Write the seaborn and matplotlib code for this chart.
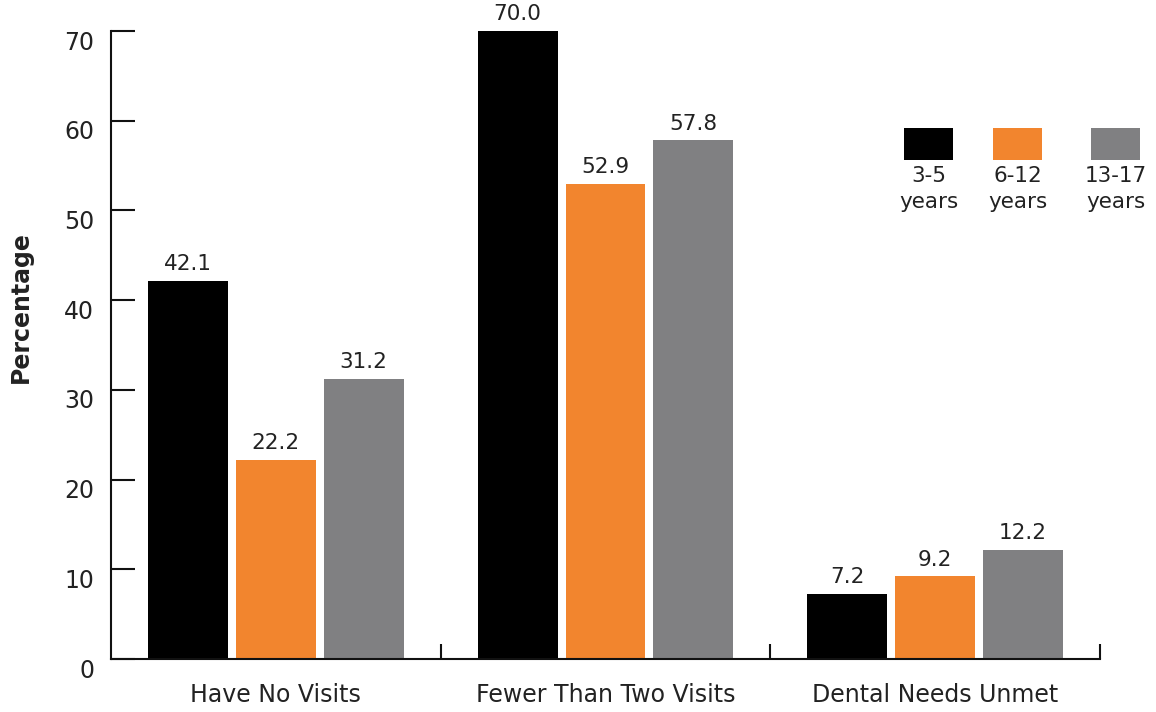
import matplotlib
matplotlib.use("Agg")
import matplotlib.pyplot as plt
from matplotlib.patches import Rectangle
from matplotlib.transforms import ScaledTranslation
import seaborn as sns
import pandas as pd

# Survey results: share of children by age group
categories = ["Have No Visits", "Fewer Than Two Visits", "Dental Needs Unmet"]
age_groups = ["3-5\nyears", "6-12\nyears", "13-17\nyears"]
values_3_5 = [42.1, 70.0, 7.2]
values_6_12 = [22.2, 52.9, 9.2]
values_13_17 = [31.2, 57.8, 12.2]
colors = ["#000000", "#F2852E", "#808082"]
y_ticks = [0, 10, 20, 30, 40, 50, 60, 70]

rows = []
for grp, vals in zip(age_groups, [values_3_5, values_6_12, values_13_17]):
    for cat, v in zip(categories, vals):
        rows.append({"category": cat, "age": grp, "pct": v})
df = pd.DataFrame(rows)

sns.set_style("white")
plt.rcParams["font.family"] = ["DejaVu Sans"]
text_color = "#222222"

W, H = 1156, 712
fig = plt.figure(figsize=(W / 100, H / 100), dpi=100)
ax = fig.add_axes([111 / W, 1 - 659 / H, (1100 - 111) / W, (659 - 31) / H])

sns.barplot(data=df, x="category", y="pct", hue="age", order=categories,
            hue_order=age_groups, palette=colors, width=0.8, gap=0.09,
            saturation=1, legend=False, ax=ax, errorbar=None, linewidth=0)

for cont in ax.containers:
    ax.bar_label(cont, fmt="%.1f", padding=5, fontsize=15.5, color=text_color)

ax.set_xlim(-0.5, 2.5)
ax.set_ylim(0, 70)
ax.set_yticks(y_ticks)
ax.set_yticklabels([str(t) for t in y_ticks])
ax.set_xticks([0.5, 1.5, 2.5], minor=True)

for side in ["top", "right"]:
    ax.spines[side].set_visible(False)
for side in ["left", "bottom"]:
    ax.spines[side].set_linewidth(1.5)
    ax.spines[side].set_color("#111111")

ax.tick_params(axis="y", which="major", direction="in", length=17, width=1.5,
               color="#111111", pad=12, labelsize=17, labelcolor=text_color, left=True)
ax.tick_params(axis="x", which="major", length=0, pad=17, labelsize=17,
               labelcolor=text_color)
ax.tick_params(axis="x", which="minor", direction="in", length=11, width=1.5,
               color="#111111", bottom=True)

# nudge the y tick labels slightly below their ticks
shift = ScaledTranslation(0, -9 / 100, fig.dpi_scale_trans)
for lbl in ax.get_yticklabels():
    lbl.set_transform(lbl.get_transform() + shift)

ax.set_xlabel("")
ax.set_ylabel("Percentage", fontsize=17, fontweight="bold", color=text_color)
ax.yaxis.set_label_coords(-0.079, 0.56)

# Age-group key: swatches with captions beneath
key_x = [904, 993, 1091]
for x0, col, lab in zip(key_x, colors, age_groups):
    fig.add_artist(Rectangle((x0 / W, 1 - 160 / H), 49 / W, 32 / H,
                             transform=fig.transFigure, facecolor=col,
                             edgecolor="none"))
    fig.text((x0 + 24.5) / W, 1 - 166 / H, lab, ha="center", va="top",
             fontsize=15.5, color=text_color, linespacing=1.35)

fig.savefig("out.png", dpi=100)
